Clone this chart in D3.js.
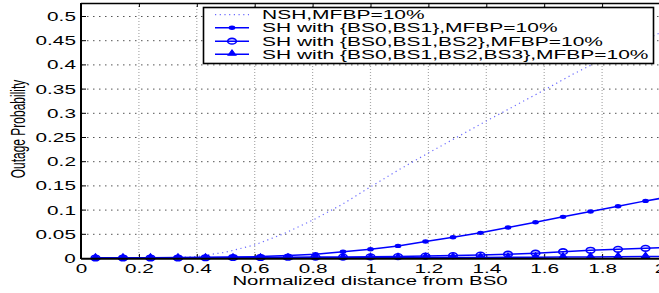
<!DOCTYPE html>
<html><head><meta charset="utf-8">
<script src="https://cdn.jsdelivr.net/npm/d3@7"></script>
<style>body{margin:0;background:#fff;} svg{display:block;} text{font-family:"Liberation Sans",Arial,Helvetica,sans-serif;font-size:12px;fill:#000;}</style>
</head><body><svg id="c" width="659" height="293"></svg>
<script>
// ---- data ----
const xs = [0.05,0.145,0.24,0.335,0.43,0.525,0.62,0.715,0.81,0.905,1.0,1.095,1.19,1.285,1.38,1.475,1.57,1.665,1.76,1.855,1.95,2.0];
const sh01 = [0,0,0.0005,0.001,0.0015,0.002,0.003,0.005,0.008,0.013,0.018,0.025,0.034,0.043,0.052,0.063,0.074,0.085,0.096,0.107,0.118,0.123];
const sh012 = [0,0,0,0,0.0005,0.001,0.001,0.0015,0.002,0.002,0.0025,0.003,0.004,0.005,0.006,0.008,0.010,0.013,0.016,0.018,0.020,0.021];
const sh0123 = [0,0,0,0,0,0,0,0,0.0003,0.0005,0.0005,0.0007,0.001,0.001,0.0012,0.0015,0.0017,0.002,0.0022,0.0025,0.003,0.003];
const nshX = [0.05,0.1,0.2,0.3,0.4,0.5,0.6,0.7,0.8,0.9,1.0,1.1,1.2,1.3,1.4,1.5,1.6,1.7,1.8,1.9,2.0];
const nshY = [0,0,0,0.0005,0.003,0.012,0.027,0.05,0.078,0.11,0.147,0.183,0.217,0.25,0.283,0.315,0.347,0.38,0.41,0.438,0.465];
const xTicks = [0,0.2,0.4,0.6,0.8,1,1.2,1.4,1.6,1.8,2];
const yTicks = [0,0.05,0.1,0.15,0.2,0.25,0.3,0.35,0.4,0.45,0.5];
const legendLabels = ["NSH,MFBP=10%","SH with {BS0,BS1},MFBP=10%","SH with {BS0,BS1,BS2},MFBP=10%","SH with {BS0,BS1,BS2,BS3},MFBP=10%"];
const xLabel = "Normalized distance from BS0";
const yLabel = "Outage Probability";

// ---- layout ----
const SX = 1.7;
const L = 81, R = 660, T = 3, B = 258;
const blue = "#0000ff";
const svg = d3.select("#c");
const x = d3.scaleLinear().domain([0,2]).range([L,R]);
const y = d3.scaleLinear().domain([0,0.5]).range([B,16]);

// gridlines
svg.append("g").selectAll("line").data(yTicks.filter(d=>d>0)).join("line")
  .attr("x1",L).attr("x2",R).attr("y1",d=>y(d)+0.5).attr("y2",d=>y(d)+0.5)
  .attr("stroke","#555").attr("stroke-width",1).attr("stroke-dasharray","1.5,4.5");
svg.append("g").selectAll("line").data(xTicks.filter(d=>d>0)).join("line")
  .attr("x1",d=>x(d)).attr("x2",d=>x(d)).attr("y1",T).attr("y2",B)
  .attr("stroke","#aaa").attr("stroke-width",1.2).attr("stroke-dasharray","1,2");

// axes with d3
const gy = svg.append("g").attr("transform",`translate(${L},0)`)
  .call(d3.axisLeft(y).tickValues(yTicks).tickFormat(d=>String(d)).tickSizeInner(-5).tickSizeOuter(0).tickPadding(3));
gy.select(".domain").remove();
gy.selectAll(".tick line").attr("stroke","#000");
gy.selectAll(".tick text").attr("x",-3).attr("dy","0.36em").attr("transform",`scale(${SX},1)`)
  .style("font-family","'Liberation Sans',Arial,sans-serif").style("font-size","12.2px");

const gx = svg.append("g").attr("transform",`translate(0,${B})`)
  .call(d3.axisBottom(x).tickValues(xTicks).tickFormat(d=>String(d)).tickSizeInner(-4).tickSizeOuter(0).tickPadding(3));
gx.select(".domain").remove();
gx.selectAll(".tick line").attr("stroke","#000");
gx.selectAll(".tick text").attr("y",0).attr("dy",0).attr("transform",`translate(0,14.5) scale(${SX},1)`)
  .style("font-family","'Liberation Sans',Arial,sans-serif").style("font-size","12.2px");

// top ticks
const gt = svg.append("g").attr("transform",`translate(0,${T})`)
  .call(d3.axisTop(x).tickValues(xTicks).tickFormat("").tickSizeInner(-4).tickSizeOuter(0));
gt.select(".domain").remove();
gt.selectAll(".tick line").attr("stroke","#000");

// series
const line = d3.line().x(d=>x(d[0])).y(d=>y(d[1]));
svg.append("path").datum(nshX.map((v,i)=>[v,nshY[i]])).attr("d",line)
  .attr("fill","none").attr("stroke","#6a6aff").attr("stroke-width",1.2).attr("stroke-dasharray","1.2,3.5");

function series(vals, kind){
  const pts = xs.map((v,i)=>[v,vals[i]]);
  svg.append("path").datum(pts).attr("d",line).attr("fill","none").attr("stroke",blue).attr("stroke-width",1.5);
  const mk = pts.slice(0, pts.length-1);
  drawMarkers(svg, mk.map(p=>[x(p[0]), y(p[1])]), kind);
}
function drawMarkers(g, pos, kind){
  const gm = g.append("g");
  if(kind==="dot"){
    gm.selectAll("ellipse").data(pos).join("ellipse").attr("cx",d=>d[0]).attr("cy",d=>d[1])
      .attr("rx",3.3).attr("ry",2.2).attr("fill",blue);
  } else if(kind==="circle"){
    gm.selectAll("ellipse").data(pos).join("ellipse").attr("cx",d=>d[0]).attr("cy",d=>d[1])
      .attr("rx",4.3).attr("ry",2.8).attr("fill","none").attr("stroke",blue).attr("stroke-width",1.6);
  } else {
    const sym = d3.symbol(d3.symbolTriangle, 16);
    gm.selectAll("path").data(pos).join("path").attr("d",sym())
      .attr("transform",d=>`translate(${d[0]},${d[1]-0.8}) scale(${SX*0.75},1)`)
      .attr("fill",blue).attr("stroke",blue).attr("stroke-width",1);
  }
}
series(sh01,"dot");
series(sh012,"circle");
series(sh0123,"tri");

// frame
svg.append("line").attr("x1",L).attr("x2",R).attr("y1",T+0.5).attr("y2",T+0.5).attr("stroke","#000").attr("stroke-width",1.5);
svg.append("line").attr("x1",L).attr("x2",L).attr("y1",T).attr("y2",B+1).attr("stroke","#000").attr("stroke-width",2);
svg.append("line").attr("x1",L).attr("x2",R).attr("y1",B+0.8).attr("y2",B+0.8).attr("stroke","#000").attr("stroke-width",2);

// legend
const lg = svg.append("g");
lg.append("rect").attr("x",203.5).attr("y",7.5).attr("width",450).attr("height",56)
  .attr("fill","#fff").attr("stroke","#000").attr("stroke-width",1.6);
const rowsY = [19,32,45.5,58.5];
const kinds = ["nsh","dot","circle","tri"];
legendLabels.forEach((lab,i)=>{
  const cy = rowsY[i]-4.3;
  const ln = lg.append("line").attr("x1",215).attr("x2",249).attr("y1",cy).attr("y2",cy);
  if(i===0) ln.attr("stroke","#6a6aff").attr("stroke-width",1.2).attr("stroke-dasharray","1.2,3.5");
  else ln.attr("stroke",blue).attr("stroke-width",1.5);
  if(i>0) drawMarkers(lg, [[232,cy]], kinds[i]);
  lg.append("text").attr("transform",`translate(262,${rowsY[i]}) scale(1.72,1)`).style("font-size","12.2px").text(lab);
});

// axis labels
svg.append("text").attr("text-anchor","middle").attr("transform",`translate(370,284.5) scale(${SX},1)`).text(xLabel);
svg.append("text").attr("text-anchor","middle").attr("transform",`translate(24.5,129) scale(${SX},1) rotate(-90)`).text(yLabel);
</script></body></html>
